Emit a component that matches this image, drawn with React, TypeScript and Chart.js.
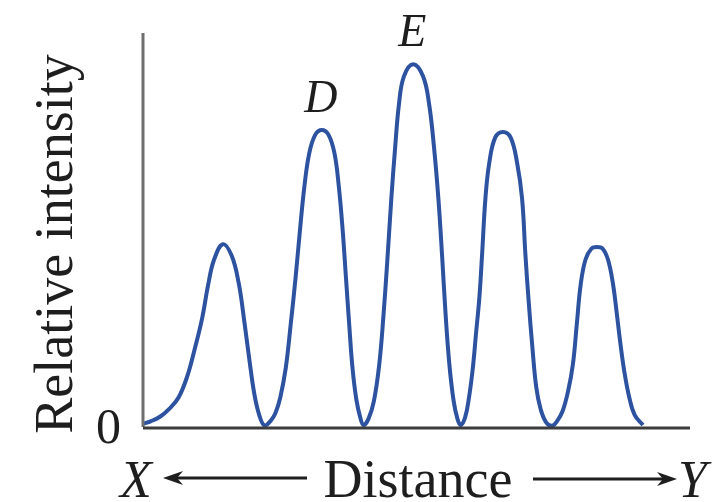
import React, { useEffect, useRef } from "react";
import { Chart, registerables } from "chart.js";

Chart.register(...registerables);

// Distance (arbitrary units, 0–100) and relative intensity (0–100)
const distance = [
  0, 1.5, 3.1, 4.8, 6.5, 8.0, 9.4, 10.8, 11.9, 13.0, 14.6, 16.2, 17.5, 18.5, 19.5, 20.4, 21.3, 22.2,
  23.3, 24.2, 25.1, 26.1, 27.0, 27.9, 28.7, 29.5, 30.4, 31.5, 32.7, 33.9, 35.0, 35.8, 36.5, 37.1, 37.7, 38.3, 39.0, 39.7, 40.3,
  41.2, 42.2, 43.2, 44.0, 44.7, 45.4, 46.1, 46.8, 47.7, 49.4, 51.2, 52.3, 53.2, 54.0, 54.7, 55.3, 56.0, 56.8, 57.5, 58.1,
  58.9, 59.6, 60.3, 60.9, 61.5, 62.0, 62.6, 63.3, 64.4, 65.8, 67.2, 68.4, 69.3, 69.9, 70.5, 71.2, 71.9, 72.7, 73.7, 74.8,
  75.7, 76.7, 77.7, 78.6, 79.3, 80.0, 80.9, 82.0, 83.0, 84.0, 85.0, 85.9, 86.6, 87.2, 88.0, 88.9, 89.9, 91.4,
];
const intensity = [
  0.8, 1.5, 2.6, 4.6, 7.5, 12.5, 19.5, 27.5, 36, 42.5, 46.4, 43.5, 36.5, 27, 16.5, 8, 2.8, 0.4,
  1.5, 3.5, 7.5, 15, 26, 38, 50, 61, 69.5, 74.2, 75.4, 74.2, 69.5, 61, 50, 38, 26, 15, 7, 2.5, 0.5,
  2, 6.5, 16, 29, 43, 58, 71, 82, 89, 92.1, 89, 82, 71, 58, 43, 29, 16, 6.5, 2, 0.5,
  2.5, 7.5, 15, 24, 33, 44, 58, 67, 73.5, 74.9, 73.5, 67, 58, 44, 32, 20, 10, 4.5, 1.2, 0.3,
  1.5, 4, 9, 16, 26, 36, 42.5, 45.3, 45.7, 45.3, 42.5, 36.5, 29, 22, 14, 7.5, 3, 0.5,
];

// Peak labels with the distance and intensity of the peak they sit over
const peakLabels = ["D", "E"];
const peakX = [32.7, 49.4];
const peakY = [75.4, 92.1];

const yTickLabels = ["0"];
const yTitle = "Relative intensity";
const xTitle = "Distance";
const xStart = "X";
const xEnd = "Y";

const SERIF = "'Liberation Serif', 'Times New Roman', serif";

function arrow(ctx: CanvasRenderingContext2D, x1: number, x2: number, y: number) {
  const dir = x2 > x1 ? 1 : -1;
  const headLen = 20;
  ctx.beginPath();
  ctx.moveTo(x1, y);
  ctx.lineTo(x2 - dir * 8, y);
  ctx.stroke();
  ctx.beginPath();
  ctx.moveTo(x2, y);
  ctx.lineTo(x2 - dir * headLen, y - 7);
  ctx.lineTo(x2 - dir * (headLen - 6), y);
  ctx.lineTo(x2 - dir * headLen, y + 7);
  ctx.closePath();
  ctx.fill();
}

const decorPlugin = {
  id: "decor",
  afterDraw(chart: any) {
    const ctx: CanvasRenderingContext2D = chart.ctx;
    const xs = chart.scales.x;
    const ys = chart.scales.y;
    const area = chart.chartArea;
    const y0 = ys.getPixelForValue(0);
    ctx.save();
    // y axis
    ctx.strokeStyle = "#6e6e6e";
    ctx.lineWidth = 3;
    ctx.beginPath();
    ctx.moveTo(area.left, area.top);
    ctx.lineTo(area.left, y0);
    ctx.stroke();
    // x axis
    ctx.strokeStyle = "#3c3c3c";
    ctx.beginPath();
    ctx.moveTo(area.left, y0 + 1);
    ctx.lineTo(area.right, y0 + 1);
    ctx.stroke();

    ctx.fillStyle = "#1e1e1e";
    // y tick label
    ctx.font = `50px ${SERIF}`;
    ctx.textAlign = "right";
    ctx.textBaseline = "middle";
    ctx.fillText(yTickLabels[0], area.left - 22, y0 + 3);

    // y title
    ctx.save();
    ctx.translate(72, (area.top + y0) / 2 + 14);
    ctx.rotate(-Math.PI / 2);
    ctx.textAlign = "center";
    ctx.textBaseline = "alphabetic";
    ctx.font = `54px ${SERIF}`;
    ctx.fillText(yTitle, 0, 0);
    ctx.restore();

    // peak labels
    ctx.font = `italic 46px ${SERIF}`;
    ctx.textAlign = "center";
    ctx.textBaseline = "alphabetic";
    for (let i = 0; i < peakLabels.length; i++) {
      const px = xs.getPixelForValue(peakX[i]);
      const py = ys.getPixelForValue(peakY[i]);
      ctx.fillText(peakLabels[i], px - 1, py - 18);
    }

    // x title with arrows
    const baseY = 497;
    ctx.font = `54px ${SERIF}`;
    ctx.textAlign = "center";
    ctx.fillText(xTitle, 418, baseY);
    ctx.font = `italic 52px ${SERIF}`;
    ctx.textAlign = "left";
    ctx.fillText(xStart, 120, baseY);
    ctx.fillText(xEnd, 678, baseY);
    ctx.strokeStyle = "#1e1e1e";
    ctx.lineWidth = 3;
    arrow(ctx, 307, 163, 478);
    arrow(ctx, 533, 677, 479);
    ctx.restore();
  },
};

export default function App() {
  const ref = useRef<HTMLCanvasElement>(null);
  useEffect(() => {
    if (!ref.current) return;
    const chart = new Chart(ref.current, {
      type: "line",
      data: {
        datasets: [
          {
            data: distance.map((d, i) => ({ x: d, y: intensity[i] })),
            borderColor: "#2d52a0",
            borderWidth: 4,
            pointRadius: 0,
            tension: 0.4,
            fill: false,
          },
        ],
      },
      options: {
        animation: false,
        responsive: false,
        layout: { padding: { left: 143, right: 38, top: 33, bottom: 75 } },
        plugins: { legend: { display: false }, tooltip: { enabled: false } },
        scales: {
          x: { type: "linear", min: 0, max: 100, display: false },
          y: { type: "linear", min: 0, max: 100, display: false },
        },
      },
      plugins: [decorPlugin],
    });
    return () => chart.destroy();
  }, []);
  return (
    <div style={{ position: "absolute", left: 0, top: 0, width: 728, height: 502, background: "#fff" }}>
      <canvas ref={ref} width={728} height={502} />
    </div>
  );
}
